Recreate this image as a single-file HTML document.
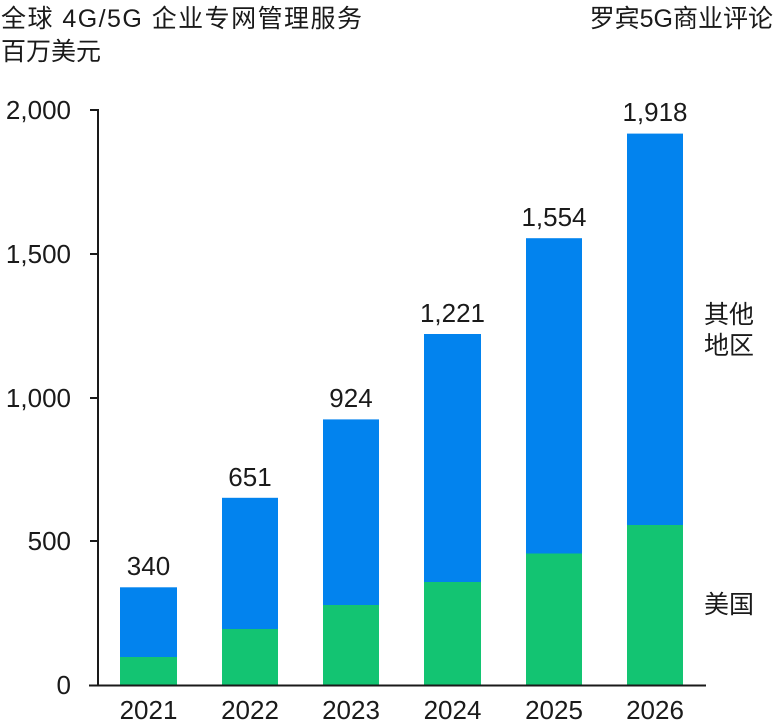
<!DOCTYPE html>
<html><head><meta charset="utf-8"><style>
body{margin:0;background:#fff;}
text{font-family:"Liberation Sans","Noto Sans CJK SC",sans-serif;fill:#1a1a1a;}
</style></head><body>
<svg width="775" height="721" viewBox="0 0 775 721" xmlns="http://www.w3.org/2000/svg">
<text x="1" y="27" font-size="25" textLength="361" lengthAdjust="spacing">全球 4G/5G 企业专网管理服务</text>
<text x="1" y="60" font-size="25">百万美元</text>
<text x="773" y="27" font-size="25" text-anchor="end">罗宾5G商业评论</text>
<g font-size="26" text-anchor="end">
<text x="71" y="119">2,000</text>
<text x="71" y="263">1,500</text>
<text x="71" y="407">1,000</text>
<text x="71" y="550">500</text>
<text x="71" y="694">0</text>
</g>
<g stroke="#1a1a1a" stroke-width="2">
<line x1="98" y1="109" x2="98" y2="686"/>
<line x1="90" y1="110" x2="98" y2="110"/>
<line x1="90" y1="254" x2="98" y2="254"/>
<line x1="90" y1="398" x2="98" y2="398"/>
<line x1="90" y1="541" x2="98" y2="541"/>
</g>
<g>
<rect x="120" y="587.3" width="57" height="97.7" fill="#0283ee"/>
<rect x="120" y="657" width="57" height="28" fill="#13c472"/>
<rect x="222" y="497.8" width="56" height="187.2" fill="#0283ee"/>
<rect x="222" y="629" width="56" height="56" fill="#13c472"/>
<rect x="323" y="419.4" width="56" height="265.6" fill="#0283ee"/>
<rect x="323" y="605" width="56" height="80" fill="#13c472"/>
<rect x="424" y="334" width="57" height="351" fill="#0283ee"/>
<rect x="424" y="582" width="57" height="103" fill="#13c472"/>
<rect x="526" y="238.2" width="56" height="446.8" fill="#0283ee"/>
<rect x="526" y="553.5" width="56" height="131.5" fill="#13c472"/>
<rect x="627" y="133.6" width="56" height="551.4" fill="#0283ee"/>
<rect x="627" y="525" width="56" height="160" fill="#13c472"/>
</g>
<line x1="89" y1="685.5" x2="706" y2="685.5" stroke="#1a1a1a" stroke-width="2"/>
<g font-size="26" text-anchor="middle">
<text x="148.5" y="575">340</text>
<text x="250" y="486">651</text>
<text x="351" y="407">924</text>
<text x="452.5" y="322">1,221</text>
<text x="554" y="226">1,554</text>
<text x="655" y="121">1,918</text>
<text x="148.5" y="719">2021</text>
<text x="250" y="719">2022</text>
<text x="351" y="719">2023</text>
<text x="452.5" y="719">2024</text>
<text x="554" y="719">2025</text>
<text x="655" y="719">2026</text>
</g>
<g font-size="25">
<text x="704" y="323">其他</text>
<text x="704" y="354">地区</text>
<text x="704" y="613">美国</text>
</g>
</svg>
</body></html>
